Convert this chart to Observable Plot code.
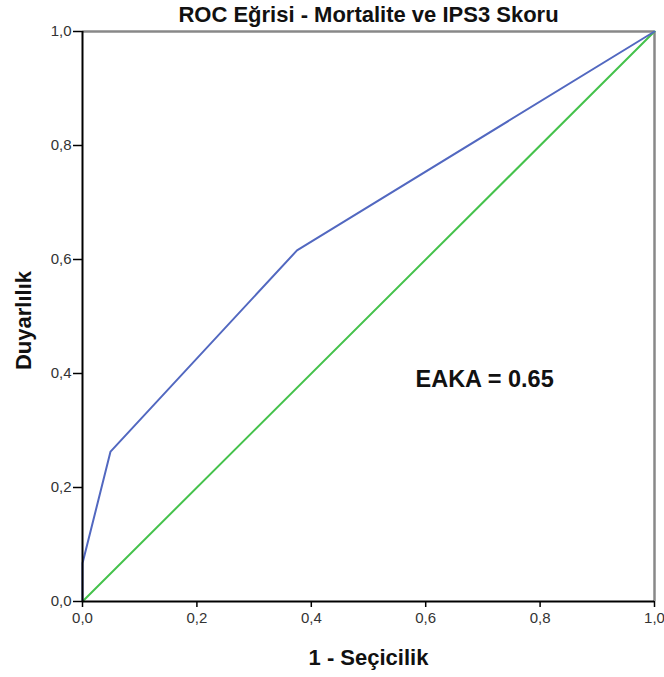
<!DOCTYPE html>
<html>
<head>
<meta charset="utf-8">
<script src="https://cdn.jsdelivr.net/npm/d3@7"></script>
<script src="https://cdn.jsdelivr.net/npm/@observablehq/plot@0.6"></script>
<style>
  body { margin: 0; background: #fff; }
  svg { font-family: "Liberation Sans", Arial, sans-serif; }
  g[aria-label$="tick label"] { font-size: 15px; }
</style>
</head>
<body>
<div id="chart"></div>
<script>
const rocFpr = [0, 0, 0.049, 0.375, 1];
const rocTpr = [0, 0.067, 0.263, 0.616, 1];
const refLine = [0, 1];
const ticks = [0, 0.2, 0.4, 0.6, 0.8, 1.0];
const titleText = "ROC Eğrisi - Mortalite ve IPS3 Skoru";
const xLabel = "1 - Seçicilik";
const yLabel = "Duyarlılık";
const aucLabel = "EAKA = 0.65";
const aucPos = [0.703, 0.39];

const roc = rocFpr.map((x, i) => ({x, y: rocTpr[i]}));
const diag = refLine.map(v => ({x: v, y: v}));
const fmt = d => d3.format(".1f")(d).replace(".", ",");

const chart = Plot.plot({
  width: 664,
  height: 677,
  marginLeft: 82,
  marginRight: 10,
  marginTop: 31,
  marginBottom: 76,
  x: {domain: [0, 1]},
  y: {domain: [0, 1]},
  style: {fontFamily: '"Liberation Sans", Arial, sans-serif', fontSize: "15px", background: "#fff"},
  marks: [
    Plot.ruleY([1], {stroke: "#888", strokeWidth: 2.5}),
    Plot.ruleX([1], {stroke: "#888", strokeWidth: 2.5}),
    Plot.line(diag, {x: "x", y: "y", stroke: "#45c24c", strokeWidth: 2}),
    Plot.line(roc, {x: "x", y: "y", stroke: "#5268c0", strokeWidth: 2}),
    Plot.ruleX([0], {stroke: "#000", strokeWidth: 2}),
    Plot.ruleY([0], {stroke: "#000", strokeWidth: 2}),
    Plot.axisX({ticks, tickFormat: fmt, tickSize: 6, tickPadding: 5, fontSize: 15, fill: "#333", stroke: "#000", strokeWidth: 1.5, label: null}),
    Plot.axisY({ticks, tickFormat: fmt, tickSize: 9, tickPadding: 2, fontSize: 15, fill: "#333", stroke: "#000", strokeWidth: 1.5, label: null}),
    Plot.text([xLabel], {frameAnchor: "bottom", lineAnchor: "middle", dy: 56, fontSize: 22, fontWeight: "bold", fill: "#111"}),
    Plot.text([yLabel], {frameAnchor: "left", textAnchor: "middle", lineAnchor: "middle", dx: -59, dy: 4, rotate: -90, fontSize: 22, fontWeight: "bold", fill: "#111"}),
    Plot.text([titleText], {frameAnchor: "top", lineAnchor: "middle", dy: -17, fontSize: 22, fontWeight: "bold", fill: "#111", letterSpacing: "0.4px"}),
    Plot.text([aucLabel], {x: () => aucPos[0], y: () => aucPos[1], fontSize: 23.5, fontWeight: "bold", fill: "#111"})
  ]
});
document.getElementById("chart").appendChild(chart);
</script>
</body>
</html>
